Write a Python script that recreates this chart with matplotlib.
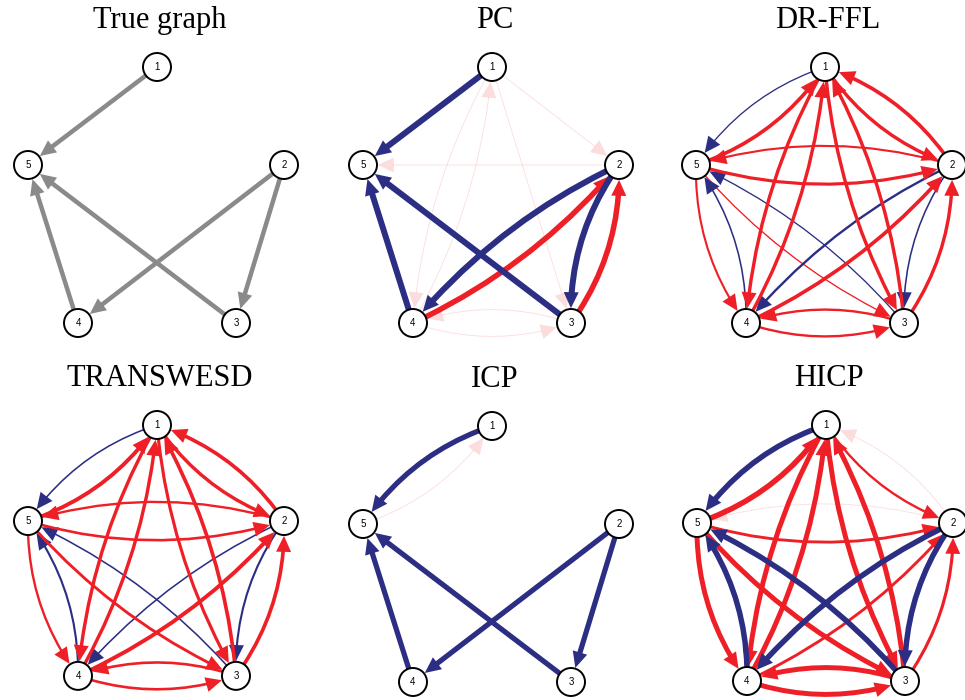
import matplotlib
matplotlib.use("Agg")
import matplotlib.pyplot as plt
from matplotlib.patches import Circle, FancyArrowPatch, ArrowStyle

# ground-truth network
true_edges = [(1, 5), (2, 4), (2, 3), (3, 5), (4, 5)]

# recovered edges per method: (source, target, weight)
pc_edges = [
    (1, 5, 1.0), (4, 5, 1.0), (3, 5, 1.0), (2, 4, 1.0), (2, 3, 1.0),
    (4, 2, 0.9), (3, 2, 0.9),
    (1, 4, 0.015), (4, 1, 0.015), (1, 3, 0.015), (1, 2, 0.015),
    (2, 5, 0.015), (4, 3, 0.015), (3, 4, 0.015),
]

drffl_edges = [
    (1, 5, 0.1), (5, 1, 0.55), (1, 4, 0.5), (4, 1, 0.5),
    (1, 3, 0.5), (3, 1, 0.5), (1, 2, 0.5), (2, 1, 0.55),
    (2, 5, 0.25), (5, 2, 0.45), (5, 4, 0.25), (4, 5, 0.15),
    (5, 3, 0.1), (3, 5, 0.1), (2, 4, 0.3), (4, 2, 0.55),
    (2, 3, 0.15), (3, 2, 0.5), (4, 3, 0.3), (3, 4, 0.3),
]

transwesd_edges = [
    (1, 5, 0.15), (5, 1, 0.6), (1, 4, 0.5), (4, 1, 0.5),
    (1, 3, 0.45), (3, 1, 0.55), (1, 2, 0.5), (2, 1, 0.55),
    (2, 5, 0.3), (5, 2, 0.35), (5, 4, 0.3), (4, 5, 0.25),
    (5, 3, 0.4), (3, 5, 0.15), (2, 4, 0.15), (4, 2, 0.6),
    (2, 3, 0.25), (3, 2, 0.55), (4, 3, 0.35), (3, 4, 0.35),
]

icp_edges = [
    (1, 5, 0.85), (5, 1, 0.015), (4, 5, 0.85), (3, 5, 0.85),
    (2, 4, 0.85), (2, 3, 0.85),
]

hicp_edges = [
    (1, 5, 0.9), (5, 1, 0.9), (1, 4, 0.8), (4, 1, 0.8),
    (1, 3, 0.8), (3, 1, 0.8), (2, 1, 0.015), (1, 2, 0.3),
    (2, 5, 0.015), (5, 2, 0.4), (5, 4, 0.8), (4, 5, 0.9),
    (5, 3, 0.8), (3, 5, 0.9), (2, 4, 0.9), (4, 2, 0.4),
    (2, 3, 0.9), (3, 2, 0.45), (4, 3, 0.8), (3, 4, 0.8),
]

titles = ["True graph", "PC", "DR-FFL", "TRANSWESD", "ICP", "HICP"]
edge_sets = [None, pc_edges, drffl_edges, transwesd_edges, icp_edges, hicp_edges]

# panel placement (position of node 1, vertical stretch), in pixels
anchors = [(157, 67, 1.0), (492, 67, 1.0), (825, 67, 1.0),
           (157, 425, 0.98), (492, 426, 1.0), (826, 425, 1.0)]
offsets = {1: (0, 0), 2: (127, 98), 3: (79, 256), 4: (-79, 256), 5: (-129, 98)}

# bend of a two-way pair: pentagon sides bend more than the long diagonals
side_pairs = {frozenset(p) for p in [(1, 2), (2, 3), (3, 4), (4, 5), (5, 1)]}
RAD_SIDE = 0.17
RAD_WIDE = 0.15      # the flat 2-5 diagonal
RAD_DIAG = 0.11

BLUE = "#2b2e83"
RED = "#ee1f26"
GREY = "#8a8a8a"
NODE_R = 14          # px
PX = 0.72            # points per pixel at 100 dpi
HEAD_LEN = 16 * PX
HEAD_HW = 7.5 * PX

fig = plt.figure(figsize=(9.65, 7), dpi=100)
ax = fig.add_axes([0, 0, 1, 1])
ax.set_xlim(0, 965)
ax.set_ylim(700, 0)
ax.axis("off")


def pair_rad(s, d):
    key = frozenset((s, d))
    if key in side_pairs:
        return RAD_SIDE
    if key == frozenset((2, 5)):
        return RAD_WIDE
    return RAD_DIAG


def draw_edge(p, q, color, width_px, alpha, rad):
    cs = f"arc3,rad={rad}"
    shrink = (NODE_R + 0.8) * PX
    body = FancyArrowPatch(p, q, arrowstyle="-", connectionstyle=cs,
                           shrinkA=shrink, shrinkB=shrink + HEAD_LEN - 0.5,
                           lw=width_px * PX, color=color, alpha=alpha, zorder=2)
    head = FancyArrowPatch(p, q, connectionstyle=cs,
                           arrowstyle=ArrowStyle("-|>", head_length=HEAD_LEN, head_width=HEAD_HW),
                           mutation_scale=1, shrinkA=shrink, shrinkB=shrink,
                           lw=0, color=color, alpha=alpha, zorder=2)
    ax.add_patch(body)
    ax.add_patch(head)


for title, edges, (ax0, ay0, sy) in zip(titles, edge_sets, anchors):
    pos = {n: (ax0 + dx, ay0 + dy * sy) for n, (dx, dy) in offsets.items()}

    if edges is None:
        for s, d in true_edges:
            draw_edge(pos[s], pos[d], GREY, 4.5, 1.0, 0)
    else:
        pairs = {(s, d) for s, d, _ in edges}
        for s, d, w in sorted(edges, key=lambda e: e[2]):
            color = BLUE if (s, d) in true_edges else RED
            rad = pair_rad(s, d) if (d, s) in pairs else 0
            alpha = min(1.0, w / 0.1)
            draw_edge(pos[s], pos[d], color, 0.8 + 5.2 * w, alpha, rad)

    for n, (x, y) in pos.items():
        ax.add_patch(Circle((x, y), NODE_R, facecolor="white", edgecolor="black",
                            lw=1.4, zorder=5))
        ax.text(x, y, str(n), ha="center", va="center", fontsize=7,
                family="Liberation Sans", zorder=6)

    ax.text(ax0 + 3, ay0 - 39, title, ha="center", va="baseline",
            fontsize=22, family="Liberation Serif")

fig.savefig("out.png", dpi=100)
